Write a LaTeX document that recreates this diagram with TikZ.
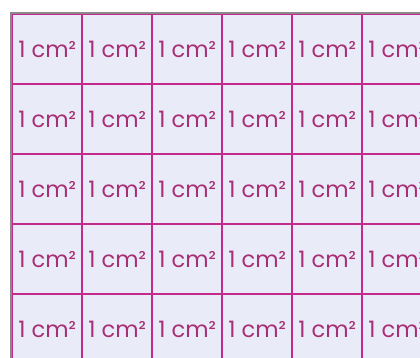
\documentclass[tikz,border=0pt]{standalone}
\usepackage{fontspec}
\setmainfont{Poppins}
\usepackage{xcolor}
\usepackage{tikz}
\usetikzlibrary{matrix}

\definecolor{gridline}{HTML}{C42A8C}
\definecolor{cellfill}{HTML}{E9ECF8}
\definecolor{celltext}{HTML}{A82E76}
\definecolor{frame}{HTML}{8A8A8E}

\begin{document}
\begin{tikzpicture}[
        % Style for the unit squares
        unitcell/.style={
            draw=gridline,
            fill=cellfill,
            line width=0.6pt,
            minimum size=1cm,
            inner sep=0pt,
            outer sep=0pt,
            text=celltext,
            font=\fontsize{9.2}{11}\selectfont
        },
        % Style for the grey outer edge
        outer_edge/.style={
            draw=frame,
            line width=0.9pt
        }
    ]

    \useasboundingbox (0,0) rectangle (6,5.114);
    \clip (0,0) rectangle (6,5.114);

    % ==========================================
    % GRID OF SQUARE CENTIMETRES
    % ==========================================
    \matrix (grid) [matrix of nodes, nodes={unitcell},
        column sep=-0.6pt, row sep=-0.6pt, inner sep=0pt,
        anchor=north west] at (0.157, 4.929) {
        1 cm² & 1 cm² & 1 cm² & 1 cm² & 1 cm² & 1 cm² \\
        1 cm² & 1 cm² & 1 cm² & 1 cm² & 1 cm² & 1 cm² \\
        1 cm² & 1 cm² & 1 cm² & 1 cm² & 1 cm² & 1 cm² \\
        1 cm² & 1 cm² & 1 cm² & 1 cm² & 1 cm² & 1 cm² \\
        1 cm² & 1 cm² & 1 cm² & 1 cm² & 1 cm² & 1 cm² \\
    };

    % Grey edge along the top and the left side
    \draw[outer_edge] (grid.south west) -- (grid.north west) -- (grid.north east);

\end{tikzpicture}
\end{document}
